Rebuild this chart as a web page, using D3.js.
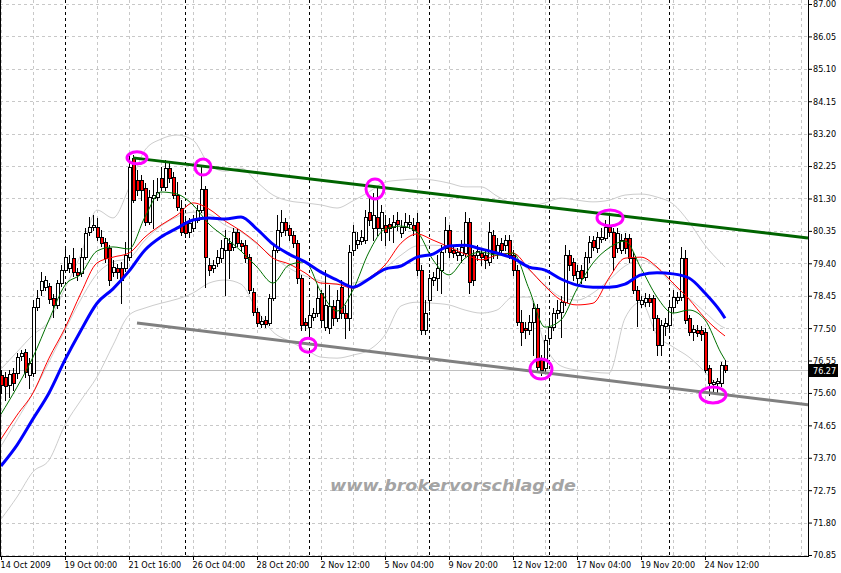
<!DOCTYPE html>
<html><head><meta charset="utf-8">
<script src="https://cdn.jsdelivr.net/npm/d3@7"></script>
<style>body{margin:0;background:#fff}svg{display:block}</style>
</head><body>
<svg id="chart" width="841" height="573"></svg>
<script>
// ---------- DATA ----------
const open=[76.13,76.07,75.83,76.18,76.18,76.68,76.80,76.13,76.18,78.12,
78.62,78.70,78.73,78.38,78.18,78.82,79.20,79.26,79.55,79.14,
79.12,79.58,80.32,80.46,80.46,80.17,80.02,79.85,79.14,79.26,
79.26,79.26,79.58,82.49,81.84,81.84,81.61,80.61,81.31,81.34,
81.90,81.64,82.19,81.93,81.40,81.02,80.61,80.32,80.43,80.67,
80.96,81.58,79.35,79.26,79.41,79.55,79.79,79.99,79.88,80.32,
79.99,79.93,79.58,78.56,77.97,77.62,77.74,77.65,78.38,79.79,
80.32,80.61,80.43,80.23,79.99,78.97,77.68,77.53,77.82,77.94,
78.53,77.53,77.50,78.15,77.79,78.70,77.94,77.79,79.79,79.96,
80.05,80.08,80.90,80.43,80.76,80.43,80.52,80.55,80.46,80.67,
80.29,80.46,80.55,80.52,80.61,79.20,77.44,78.32,78.91,78.97,
79.20,79.85,80.37,79.79,79.64,79.64,79.70,80.61,79.64,79.64,
79.70,79.64,79.44,80.23,79.70,79.99,79.93,80.08,79.64,79.20,
77.68,77.50,77.44,77.68,78.09,76.56,76.33,77.21,77.53,77.94,
77.97,78.26,79.64,79.44,78.97,79.20,79.00,79.58,80.08,79.85,
80.11,80.14,80.46,80.32,79.85,79.79,80.14,80.14,79.55,78.62,
78.21,78.26,78.38,78.38,77.79,77.00,77.56,77.59,78.12,78.32,
78.41,79.55,77.79,77.39,77.44,77.44,77.39,76.33,75.86,75.89,
75.89,76.42];
const high=[76.27,76.21,76.27,76.33,76.77,76.86,76.89,76.62,78.32,78.62,
79.14,79.03,78.82,78.50,78.91,79.35,79.88,79.64,79.85,79.26,
79.85,80.43,80.76,80.81,80.73,80.37,80.14,79.93,79.50,79.38,
79.44,80.02,82.57,82.57,82.13,81.99,81.75,81.55,81.84,81.90,
82.22,82.43,82.37,82.07,81.78,81.25,80.73,80.73,80.81,81.11,
82.22,81.67,79.55,79.50,79.79,80.08,80.37,80.14,80.43,80.40,
80.08,80.08,79.67,78.67,78.09,77.85,77.85,78.50,79.91,80.81,
80.96,80.73,80.52,80.35,80.08,79.06,77.79,78.32,78.09,78.76,
78.62,79.20,78.76,78.32,78.62,78.91,78.18,79.93,80.52,80.32,
80.37,80.96,81.31,81.46,81.61,81.11,80.81,80.73,80.81,80.90,
80.67,80.87,80.81,80.73,80.87,79.35,78.32,79.09,79.14,79.64,
79.93,80.76,80.52,79.93,79.85,80.08,80.90,80.73,79.79,79.93,
79.85,79.79,80.61,80.37,80.14,80.14,80.23,80.23,79.79,79.35,
78.03,77.68,77.88,78.23,78.21,76.71,77.30,77.74,78.09,78.32,
78.44,79.93,79.79,79.55,79.35,79.35,79.73,80.20,80.20,80.32,
80.43,80.67,80.87,80.43,80.43,80.26,80.29,80.26,79.73,78.73,
78.44,78.53,78.50,78.47,77.88,77.74,77.79,78.32,78.62,78.56,
79.88,79.79,77.88,77.59,77.59,77.56,77.50,76.42,75.98,76.04,
76.51,76.56];
const low=[75.60,75.39,75.48,75.69,76.04,76.56,76.07,75.74,76.10,78.03,
78.47,78.62,78.23,77.82,78.09,78.73,79.14,79.14,79.03,78.91,
79.03,79.52,80.23,80.37,80.08,79.91,79.44,78.76,79.03,78.97,
78.23,79.17,79.50,81.20,81.40,81.25,80.52,80.55,80.43,81.25,
81.55,81.55,81.78,81.31,80.96,80.23,80.17,80.17,80.35,80.61,
80.90,78.70,79.06,79.14,79.32,79.44,78.47,78.97,79.79,79.91,
79.79,79.44,78.53,77.88,77.56,77.53,77.53,77.59,78.32,79.73,
80.20,80.23,80.08,79.88,78.82,77.44,77.44,77.24,77.74,77.85,
77.53,77.44,77.36,77.59,77.71,77.79,77.21,77.44,79.64,79.85,
79.96,79.99,80.52,80.08,80.23,80.08,79.93,80.08,80.02,80.37,
80.17,80.37,80.43,80.23,79.06,77.33,77.33,78.03,78.76,78.62,
78.53,79.73,79.58,79.58,79.50,79.44,79.61,78.53,78.76,79.50,
79.35,79.26,79.35,79.55,79.55,79.64,79.79,79.55,79.06,77.59,
77.00,77.21,77.33,76.71,76.21,76.13,76.21,77.09,77.44,77.79,
77.24,78.18,79.20,78.91,78.76,78.82,78.91,79.44,79.79,79.73,
80.02,80.08,80.20,79.20,79.73,79.70,79.70,79.44,78.53,77.56,
78.12,78.15,78.15,77.44,76.71,76.71,77.30,77.44,77.97,78.23,
78.32,77.65,77.30,77.15,77.27,77.15,76.21,75.54,75.63,75.63,
75.80,76.21];
const close=[75.83,75.80,76.15,75.89,76.65,76.77,76.21,76.48,78.12,78.38,
78.88,78.91,78.35,78.18,78.82,79.20,79.58,79.41,79.14,79.06,
79.58,80.29,80.46,80.52,80.17,79.99,79.55,78.91,79.29,79.14,
78.91,79.64,82.22,81.25,81.55,81.55,80.61,81.34,81.40,81.49,
81.64,82.19,81.90,81.40,81.05,80.32,80.29,80.58,80.67,80.96,
81.58,79.58,79.20,79.35,79.58,79.85,80.14,79.79,80.32,79.99,
79.91,79.55,78.62,77.97,77.65,77.71,77.62,78.38,79.79,80.37,
80.61,80.37,80.23,79.99,78.97,77.59,77.59,77.88,77.94,78.38,
77.74,78.18,78.15,77.79,78.32,77.94,77.79,79.73,80.32,80.08,
80.17,80.76,80.67,80.81,80.43,80.90,80.32,80.43,80.61,80.55,
80.46,80.61,80.61,80.37,79.20,77.44,77.94,78.97,79.00,79.26,
79.73,80.37,79.73,79.70,79.73,79.88,80.61,78.85,78.91,79.76,
79.58,79.50,80.32,79.70,79.93,79.79,80.08,79.64,79.20,77.68,
77.39,77.44,77.68,78.09,76.36,76.27,77.15,77.53,77.94,78.03,
78.26,79.64,79.35,79.06,79.17,78.97,79.58,80.02,79.88,80.17,
80.17,80.46,80.32,79.58,80.29,80.08,79.85,79.55,78.62,78.32,
78.32,78.38,78.26,77.79,77.00,77.59,77.65,78.12,78.41,78.41,
79.55,77.74,77.39,77.47,77.36,77.33,76.27,75.89,75.92,75.95,
76.42,76.27];

// indicator samples (bar index -> price)
const maBars=[0,4,8,12,16,20,24,28,32,36,40,44,48,52,56,60,64,68,72,76,80,84,88,92,96,100,104,108,112,116,120,124,128,132,136,140,144,148,152,156,160,164,168,172,176,180,181];
const maFast=[74.98,75.77,76.65,77.74,78.76,79.09,79.76,79.88,79.82,80.76,81.49,81.43,81.11,80.55,80.17,79.76,79.29,78.82,79.35,79.44,78.56,78.00,78.62,79.73,80.40,80.49,80.32,79.50,79.06,79.55,79.73,79.64,79.70,78.65,77.53,77.74,78.65,79.41,79.85,80.05,79.26,78.41,77.94,78.03,77.74,76.77,76.57];
const maMid=[74.25,74.95,75.60,76.62,77.50,78.53,79.41,79.58,79.70,80.17,80.52,80.81,81.17,80.99,80.64,80.35,79.99,79.55,79.38,79.12,78.82,78.79,78.67,78.97,79.35,79.99,80.26,80.08,79.88,79.67,79.50,79.64,79.70,79.23,78.73,78.32,78.18,78.23,78.97,79.55,79.58,79.29,78.82,78.35,77.79,77.36,77.27];
const maSlow=[73.46,74.07,74.84,75.60,76.57,77.44,78.23,78.65,79.17,79.79,80.17,80.43,80.67,80.73,80.70,80.76,80.40,79.96,79.67,79.44,79.14,78.91,78.70,78.94,79.23,79.32,79.58,79.67,79.91,79.93,79.82,79.70,79.55,79.29,79.20,78.94,78.76,78.70,78.70,78.79,79.06,79.12,79.09,78.97,78.53,77.97,77.79];
const bbUpper=[76.30,76.80,77.30,77.71,78.67,79.67,80.96,80.73,81.61,82.72,83.04,83.16,83.01,82.31,82.10,82.19,81.78,81.40,81.23,81.17,81.11,81.02,81.23,81.49,81.78,81.84,81.87,81.84,81.75,81.64,81.64,81.37,81.14,81.08,81.17,81.31,81.25,81.20,81.25,81.40,81.43,81.34,81.14,80.61,79.93,79.41,79.29];
const bbMiddle=[74.04,74.81,75.60,76.51,77.44,78.35,79.09,79.44,79.55,80.08,80.49,80.76,80.90,80.84,80.52,80.32,79.96,79.58,79.26,79.03,78.88,78.79,78.82,78.97,79.26,79.64,79.91,79.93,79.88,79.76,79.64,79.64,79.55,79.20,78.76,78.41,78.32,78.53,78.91,79.32,79.50,79.26,78.76,78.38,77.97,77.56,77.50];
const bbLower=[71.90,72.55,73.29,73.63,74.66,75.39,76.07,77.00,77.88,78.09,78.23,78.35,78.53,78.82,78.91,78.79,78.03,77.39,77.12,76.89,76.65,76.62,76.71,76.86,77.30,78.15,78.26,78.23,78.18,78.03,77.94,78.03,78.41,78.41,77.00,76.39,76.27,76.21,76.18,77.79,78.26,77.30,76.95,76.65,76.21,75.69,75.54];

const resistanceLine=[[33,82.49],[201.75,80.14]];
const supportLine=[[34,77.65],[201.75,75.25]];
const touchBars=[34,50.5,93.5,76.75,135,152.25,178];
const touchPrices=[82.49,82.22,81.58,77.00,76.30,80.73,75.54];

const priceTicks=[87.00,86.05,85.10,84.15,83.20,82.25,81.30,80.35,79.40,78.45,77.50,76.55,75.60,74.65,73.70,72.75,71.80,70.85];
const timeLabels=["14 Oct 2009","19 Oct 00:00","21 Oct 16:00","26 Oct 04:00","28 Oct 20:00","2 Nov 12:00","5 Nov 04:00","9 Nov 20:00","12 Nov 12:00","17 Nov 04:00","19 Nov 20:00","24 Nov 12:00"];
const timeLabelBars=[0,16,32,48,64,80,96,112,128,144,160,176];
const weekBars=[16,46,77,107,137,167];
const lastPrice=76.27;
const watermark="www.brokervorschlag.de";

// ---------- DRAWING ----------
const W=841,H=573,PR=808,PB=556;
const FONT="'DejaVu Sans Condensed','Liberation Sans',sans-serif";
const x=d3.scaleLinear().domain([0,200]).range([1,801]);
const y=d3.scaleLinear().domain([70.85,87]).range([555,4]);
const svg=d3.select('#chart');
svg.append('rect').attr('width',W).attr('height',H).attr('fill','#fff');
svg.append('defs').append('clipPath').attr('id','plot')
  .append('rect').attr('x',0).attr('y',0).attr('width',PR).attr('height',PB);
const g=svg.append('g').attr('clip-path','url(#plot)');

// grid
g.append('g').selectAll('line').data(priceTicks).join('line')
  .attr('x1',0).attr('x2',PR)
  .attr('y1',d=>Math.round(y(d))+0.5).attr('y2',d=>Math.round(y(d))+0.5)
  .attr('stroke','#c8c8c8').attr('stroke-dasharray','3,3');
const gridBars=d3.range(0,201,8);
g.append('g').selectAll('line').data(gridBars).join('line')
  .attr('x1',d=>x(d)+0.5).attr('x2',d=>x(d)+0.5).attr('y1',0).attr('y2',PB)
  .attr('stroke','#c8c8c8').attr('stroke-dasharray','3,3');
g.append('g').selectAll('line').data(weekBars).join('line')
  .attr('x1',d=>x(d)+0.5).attr('x2',d=>x(d)+0.5).attr('y1',0).attr('y2',PB)
  .attr('stroke','#000').attr('stroke-dasharray','3,3');

// watermark
g.append('text').attr('x',453).attr('y',491).attr('text-anchor','middle')
  .attr('font-family',"'DejaVu Sans',sans-serif").attr('font-weight','bold').attr('font-style','italic')
  .attr('font-size',16).attr('fill','#a4a4a4')
  .attr('textLength',246).attr('lengthAdjust','spacingAndGlyphs').text(watermark);

const line=d3.line().x((d,k)=>x(maBars[k])).y(d=>y(d)).curve(d3.curveMonotoneX);
// bollinger
[bbUpper,bbMiddle,bbLower].forEach(arr=>{
  g.append('path').attr('d',line(arr)).attr('fill','none').attr('stroke','#cdcdcd').attr('stroke-width',1);
});

// last price line
const yl=Math.round(y(lastPrice));
g.append('line').attr('x1',0).attr('x2',PR).attr('y1',yl+0.5).attr('y2',yl+0.5).attr('stroke','#c0c0c0');

// candles
const idx=d3.range(open.length);
const cg=g.append('g').attr('shape-rendering','crispEdges');
cg.selectAll('line').data(idx).join('line')
  .attr('x1',i=>x(i)+0.5).attr('x2',i=>x(i)+0.5)
  .attr('y1',i=>Math.round(y(high[i]))).attr('y2',i=>Math.round(y(low[i]))+1)
  .attr('stroke','#000');
cg.selectAll('rect').data(idx).join('rect')
  .attr('x',i=>x(i)-0.5).attr('width',3)
  .attr('y',i=>Math.round(y(Math.max(open[i],close[i])))+0.5)
  .attr('height',i=>Math.max(1,Math.round(y(Math.min(open[i],close[i])))-Math.round(y(Math.max(open[i],close[i])))))
  .attr('fill',i=>close[i]>=open[i]?'#fff':'#ff0000').attr('stroke','#000');

// trend lines
const tl=d3.line().x(d=>x(d[0])).y(d=>y(d[1]));
g.append('path').attr('d',tl(resistanceLine)).attr('stroke','#006400').attr('stroke-width',3).attr('fill','none');
g.append('path').attr('d',tl(supportLine)).attr('stroke','#808080').attr('stroke-width',3).attr('fill','none');

// moving averages
g.append('path').attr('d',line(maMid)).attr('fill','none').attr('stroke','#ff0000').attr('stroke-width',1);
g.append('path').attr('d',line(maFast)).attr('fill','none').attr('stroke','#007000').attr('stroke-width',1);
g.append('path').attr('d',line(maSlow)).attr('fill','none').attr('stroke','#0000ff').attr('stroke-width',3);

// touch markers
const rxs=[10,8,9,8,11,13,13], rys=[6,8,10,7,10,8,8];
g.append('g').selectAll('ellipse').data(touchBars).join('ellipse')
  .attr('cx',(d,k)=>x(d)).attr('cy',(d,k)=>y(touchPrices[k]))
  .attr('rx',(d,k)=>rxs[k]).attr('ry',(d,k)=>rys[k])
  .attr('fill','none').attr('stroke','#ff00ff').attr('stroke-width',3);

// frame
svg.append('line').attr('x1',0.5).attr('x2',0.5).attr('y1',0).attr('y2',PB+1).attr('stroke','#000');
svg.append('line').attr('x1',0).attr('x2',PR+1).attr('y1',PB+0.5).attr('y2',PB+0.5).attr('stroke','#000');
svg.append('line').attr('x1',PR+0.5).attr('x2',PR+0.5).attr('y1',0).attr('y2',PB+1).attr('stroke','#000');

// right axis
const ya=svg.append('g').attr('transform',`translate(${PR},0)`)
  .call(d3.axisRight(y).tickValues(priceTicks).tickSize(4).tickPadding(1).tickFormat(d3.format('.2f')));
ya.select('.domain').remove();
ya.selectAll('text').attr('font-family',FONT).attr('font-size',9).attr('fill','#000');
ya.selectAll('line').attr('stroke','#000');

// bottom axis
const xa=svg.append('g').attr('transform',`translate(0,${PB})`)
  .call(d3.axisBottom(x).tickValues(timeLabelBars).tickSize(4).tickPadding(2).tickFormat((d,k)=>timeLabels[k]));
xa.select('.domain').remove();
xa.selectAll('text').attr('font-family',FONT).attr('font-size',9).attr('fill','#000')
  .attr('text-anchor','start').attr('dx',-1);
xa.selectAll('line').attr('stroke','#000');

// last price label
svg.append('rect').attr('x',809).attr('y',yl-6).attr('width',29).attr('height',13).attr('fill','#000');
svg.append('text').attr('x',813).attr('y',yl+4).attr('font-family',FONT).attr('font-size',9)
  .attr('fill','#fff').text(d3.format('.2f')(lastPrice));
</script>
</body></html>
